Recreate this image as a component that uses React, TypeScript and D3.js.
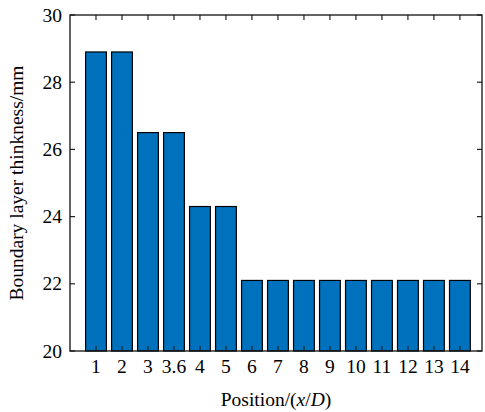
import React from "react";
import * as d3 from "d3";

const categories: string[] = ["1", "2", "3", "3.6", "4", "5", "6", "7", "8", "9", "10", "11", "12", "13", "14"];
const thickness: number[] = [28.9, 28.9, 26.5, 26.5, 24.3, 24.3, 22.1, 22.1, 22.1, 22.1, 22.1, 22.1, 22.1, 22.1, 22.1];
const yTicks: number[] = [20, 22, 24, 26, 28, 30];

const W = 485;
const H = 412;
const left = 70;
const right = 482;
const top = 15;
const bottom = 351;
const tickLen = 5;
const font = "'Liberation Serif', 'Times New Roman', serif";
const fs = 19.5;

export default function App() {
  const x = d3.scaleLinear().domain([0, 15.85]).range([left, right]);
  const y = d3.scaleLinear().domain([20, 30]).range([bottom, top]);
  const barW = x(0.8) - x(0);

  return (
    <svg
      width={W}
      height={H}
      style={{ position: "absolute", left: 0, top: 0, background: "#fff" }}
    >
      {/* bars */}
      {thickness.map((v, i) => (
        <rect
          key={"b" + i}
          x={x(i + 1) - barW / 2}
          y={y(v)}
          width={barW}
          height={y(20) - y(v)}
          fill="#0072BD"
          stroke="#000"
          strokeWidth={1.2}
        />
      ))}

      {/* x ticks top and bottom, inward */}
      {categories.map((c, i) => {
        const px = x(i + 1);
        return (
          <g key={"xt" + i}>
            <line x1={px} x2={px} y1={bottom} y2={bottom - tickLen} stroke="#222" strokeWidth={1.2} />
            <line x1={px} x2={px} y1={top} y2={top + tickLen} stroke="#222" strokeWidth={1.2} />
            <text
              x={px}
              y={373}
              textAnchor="middle"
              fontFamily={font}
              fontSize={fs}
              fill="#000"
            >
              {c}
            </text>
          </g>
        );
      })}

      {/* y ticks left and right, inward */}
      {yTicks.map((t) => {
        const py = y(t);
        return (
          <g key={"yt" + t}>
            <line x1={left} x2={left + tickLen} y1={py} y2={py} stroke="#222" strokeWidth={1.2} />
            <line x1={right} x2={right - tickLen} y1={py} y2={py} stroke="#222" strokeWidth={1.2} />
            <text
              x={62}
              y={py + 6.5}
              textAnchor="end"
              fontFamily={font}
              fontSize={fs}
              fill="#000"
            >
              {t}
            </text>
          </g>
        );
      })}

      {/* axes box */}
      <rect
        x={left}
        y={top}
        width={right - left}
        height={bottom - top}
        fill="none"
        stroke="#111"
        strokeWidth={1.3}
      />

      {/* axis titles */}
      <text
        x={(left + right) / 2}
        y={406}
        textAnchor="middle"
        fontFamily={font}
        fontSize={fs}
        fill="#000"
      >
        Position/(<tspan fontStyle="italic">x</tspan>/<tspan fontStyle="italic">D</tspan>)
      </text>
      <text
        transform={`translate(23, ${(top + bottom) / 2}) rotate(-90)`}
        textAnchor="middle"
        fontFamily={font}
        fontSize={fs}
        fill="#000"
      >
        Boundary layer thinkness/mm
      </text>
    </svg>
  );
}
